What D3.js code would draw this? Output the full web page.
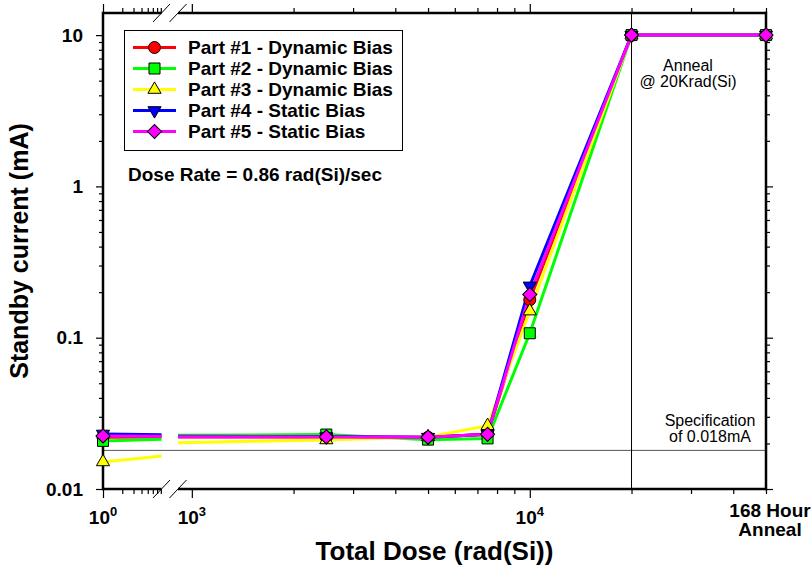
<!DOCTYPE html>
<html>
<head>
<meta charset="utf-8">
<script src="https://cdn.jsdelivr.net/npm/d3@7"></script>
<style>
  body { margin: 0; background: #fff; }
  text { font-family: "Liberation Sans", Arial, sans-serif; }
</style>
</head>
<body>
<div id="chart"></div>
<script>
// dose steps (last one is the 168 hour anneal, placed at the right edge)
var doses = [1, 2500, 5000, 7500, 10000, 20000, 50000];

var part1 = [0.022, 0.0221, 0.022, 0.023, 0.178, 10, 10];
var part2 = [0.0208, 0.0229, 0.0212, 0.0216, 0.107, 10, 10];
var part3 = [0.0151, 0.0211, 0.0221, 0.0262, 0.150, 10, 10];
var part4 = [0.0231, 0.0222, 0.022, 0.023, 0.220, 10, 10];
var part5 = [0.0224, 0.0221, 0.022, 0.023, 0.193, 10, 10];

var seriesNames = ["Part #1 - Dynamic Bias", "Part #2 - Dynamic Bias", "Part #3 - Dynamic Bias",
  "Part #4 - Static Bias", "Part #5 - Static Bias"];
var seriesColors = ["#ff0000", "#00ff00", "#ffff00", "#0000ff", "#ff00ff"];
var seriesSymbols = ["circle", "square", "triangle", "triangleDown", "diamond"];

var yMajor = [0.01, 0.1, 1, 10];
var yLabels = ["0.01", "0.1", "1", "10"];
var annealDose = 50000;   // "168 Hour Anneal"
var vlineDose = 20000;    // anneal @ 20Krad(Si)
var spec = 0.018;

var svgWidth = 812, svgHeight = 569;

var svg = d3.select("#chart").append("svg")
  .attr("width", svgWidth)
  .attr("height", svgHeight);

// broken x axis: two log segments
var xLeft = d3.scaleLog().domain([1, 8.2]).range([103, 161.5]);
var xRight = d3.scaleLog().domain([910, annealDose]).range([178, 766]);
var y = d3.scaleLog().domain([0.01, 14]).range([489, 13]);

var plotTop = y.range()[1], plotBottom = y.range()[0];
var plotLeft = xLeft.range()[0], plotRight = xRight.range()[1];

var defs = svg.append("defs");
defs.append("clipPath").attr("id", "clipL").append("rect")
  .attr("x", xLeft.range()[0]).attr("y", plotTop)
  .attr("width", xLeft.range()[1] - xLeft.range()[0]).attr("height", plotBottom - plotTop);
defs.append("clipPath").attr("id", "clipR").append("rect")
  .attr("x", xRight.range()[0]).attr("y", plotTop)
  .attr("width", xRight.range()[1] - xRight.range()[0]).attr("height", plotBottom - plotTop);

// spec line and anneal line
svg.append("line")
  .attr("x1", plotLeft).attr("x2", plotRight)
  .attr("y1", y(spec)).attr("y2", y(spec))
  .attr("stroke", "#555").attr("stroke-width", 1);

svg.append("line")
  .attr("x1", xRight(vlineDose)).attr("x2", xRight(vlineDose))
  .attr("y1", plotTop).attr("y2", plotBottom)
  .attr("stroke", "#000").attr("stroke-width", 1);

// axes
function isMajor(d) { return Math.abs(Math.log10(d) - Math.round(Math.log10(d))) < 1e-6; }

function xAxes(scale, yPos, dir) {
  var ticks = scale.ticks();
  var mk = dir === "bottom" ? d3.axisBottom : d3.axisTop;
  var g = svg.append("g").attr("transform", `translate(0, ${yPos})`);
  g.append("g").call(mk(scale).tickValues(ticks.filter(d => !isMajor(d))).tickSize(5).tickSizeOuter(0).tickFormat(""))
    .call(a => a.select(".domain").remove());
  g.append("g").call(mk(scale).tickValues(ticks.filter(isMajor)).tickSize(9).tickSizeOuter(0).tickFormat(""))
    .call(a => a.select(".domain").remove());
  g.append("line").attr("x1", scale.range()[0]).attr("x2", scale.range()[1])
    .attr("stroke", "#000").attr("stroke-width", 2.5);
  g.selectAll(".tick line").attr("stroke-width", 1.2);
}
xAxes(xLeft, plotBottom, "bottom");
xAxes(xRight, plotBottom, "bottom");
xAxes(xLeft, plotTop, "top");
xAxes(xRight, plotTop, "top");

function yAxes(xPos, dir) {
  var ticks = y.ticks();
  var mk = dir === "left" ? d3.axisLeft : d3.axisRight;
  var g = svg.append("g").attr("transform", `translate(${xPos}, 0)`);
  g.append("g").call(mk(y).tickValues(ticks.filter(d => !isMajor(d))).tickSize(4).tickSizeOuter(0).tickFormat(""))
    .call(a => a.select(".domain").remove());
  g.append("g").call(mk(y).tickValues(yMajor).tickSize(7).tickSizeOuter(0).tickFormat(""))
    .call(a => a.select(".domain").remove());
  g.append("line").attr("y1", plotTop - 1.2).attr("y2", plotBottom + 1.2)
    .attr("stroke", "#000").attr("stroke-width", 2.5);
  g.selectAll(".tick line").attr("stroke-width", 1.2);
}
yAxes(plotLeft, "left");
yAxes(plotRight, "right");

// axis break marks
[xLeft.range()[1], xRight.range()[0]].forEach(function(bx) {
  [plotTop, plotBottom].forEach(function(by) {
    svg.append("line")
      .attr("x1", bx - 8.5).attr("y1", by + 9)
      .attr("x2", bx + 8.5).attr("y2", by - 9)
      .attr("stroke", "#000").attr("stroke-width", 1);
  });
});

// tick labels
svg.selectAll(".ylab").data(yMajor).enter().append("text")
  .attr("x", plotLeft - 20)
  .attr("y", d => y(d))
  .attr("dy", "0.35em")
  .attr("text-anchor", "end")
  .attr("font-size", "19px").attr("font-weight", "bold")
  .text((d, i) => yLabels[i]);

var xLabs = [{s: xLeft, v: 1, e: "0"}, {s: xRight, v: 1000, e: "3"}, {s: xRight, v: 10000, e: "4"}];
xLabs.forEach(function(l) {
  var t = svg.append("text")
    .attr("x", l.s(l.v)).attr("y", 524)
    .attr("text-anchor", "middle")
    .attr("font-size", "19px").attr("font-weight", "bold");
  t.append("tspan").text("10");
  t.append("tspan").attr("dy", -8).attr("font-size", "13px").text(l.e);
});

svg.append("text")
  .attr("x", xRight(annealDose) + 4).attr("y", 517)
  .attr("text-anchor", "middle")
  .attr("font-size", "19px").attr("font-weight", "bold")
  .text("168 Hour");
svg.append("text")
  .attr("x", xRight(annealDose) + 4).attr("y", 536)
  .attr("text-anchor", "middle")
  .attr("font-size", "19px").attr("font-weight", "bold")
  .text("Anneal");

// axis titles
svg.append("text")
  .attr("x", (plotLeft + plotRight) / 2).attr("y", 560)
  .attr("text-anchor", "middle")
  .attr("font-size", "26px").attr("font-weight", "bold")
  .text("Total Dose (rad(Si))");

svg.append("text")
  .attr("transform", `translate(28, ${(plotTop + plotBottom) / 2}) rotate(-90)`)
  .attr("text-anchor", "middle")
  .attr("font-size", "25px").attr("font-weight", "bold")
  .text("Standby current (mA)");

// annotations
svg.append("text")
  .attr("x", 688).attr("y", 71)
  .attr("text-anchor", "middle").attr("font-size", "16px")
  .text("Anneal");
svg.append("text")
  .attr("x", 688).attr("y", 87)
  .attr("text-anchor", "middle").attr("font-size", "16px")
  .text("@ 20Krad(Si)");
svg.append("text")
  .attr("x", 710).attr("y", 426)
  .attr("text-anchor", "middle").attr("font-size", "16px")
  .text("Specification");
svg.append("text")
  .attr("x", 710).attr("y", 442)
  .attr("text-anchor", "middle").attr("font-size", "16px")
  .text("of 0.018mA");

// markers
function markerPath(name) {
  var sym = {circle: [d3.symbolCircle, 113], square: [d3.symbolSquare, 121],
    triangle: [d3.symbolTriangle, 75], triangleDown: [d3.symbolTriangle, 75],
    diamond: [d3.symbolSquare, 100]}[name];
  return d3.symbol().type(sym[0]).size(sym[1])();
}
function markerRotate(name) {
  if (name === "triangleDown") return " rotate(180)";
  if (name === "diamond") return " rotate(45)";
  return "";
}

// series: lines first, then markers on top
var allSeries = [part1, part2, part3, part4, part5];
var allPts = allSeries.map(vals => doses.map((d, j) => ({dose: d, val: vals[j]})));

var lineL = d3.line().x(d => xLeft(d.dose)).y(d => y(d.val));
var lineR = d3.line().x(d => xRight(d.dose)).y(d => y(d.val));

allPts.forEach(function(pts, i) {
  svg.append("path")
    .attr("d", lineL(pts.slice(0, 2)))
    .attr("clip-path", "url(#clipL)")
    .attr("fill", "none").attr("stroke", seriesColors[i]).attr("stroke-width", 3);

  svg.append("path")
    .attr("d", lineR(pts))
    .attr("clip-path", "url(#clipR)")
    .attr("fill", "none").attr("stroke", seriesColors[i]).attr("stroke-width", 3);
});

allPts.forEach(function(pts, i) {
  svg.selectAll(null).data(pts).enter().append("path")
    .attr("d", markerPath(seriesSymbols[i]))
    .attr("transform", d => `translate(${d.dose < 900 ? xLeft(d.dose) : xRight(d.dose)}, ${y(d.val)})` + markerRotate(seriesSymbols[i]))
    .attr("fill", seriesColors[i])
    .attr("stroke", "#000").attr("stroke-width", 1);
});

// legend
var legend = svg.append("g");
legend.append("rect")
  .attr("x", 124.5).attr("y", 30.5).attr("width", 278).attr("height", 120)
  .attr("fill", "#fff").attr("stroke", "#000").attr("stroke-width", 1);

seriesNames.forEach(function(name, i) {
  var ly = 47.5 + i * 21;
  legend.append("line")
    .attr("x1", 133).attr("x2", 176).attr("y1", ly).attr("y2", ly)
    .attr("stroke", seriesColors[i]).attr("stroke-width", 3);
  legend.append("path")
    .attr("d", markerPath(seriesSymbols[i]))
    .attr("transform", `translate(154.5, ${ly})` + markerRotate(seriesSymbols[i]))
    .attr("fill", seriesColors[i]).attr("stroke", "#000").attr("stroke-width", 1);
  legend.append("text")
    .attr("x", 188).attr("y", ly).attr("dy", "0.36em")
    .attr("font-size", "19px").attr("font-weight", "bold")
    .text(name);
});

svg.append("text")
  .attr("x", 128).attr("y", 181)
  .attr("font-size", "19px").attr("font-weight", "bold")
  .text("Dose Rate = 0.86 rad(Si)/sec");
</script>
</body>
</html>
